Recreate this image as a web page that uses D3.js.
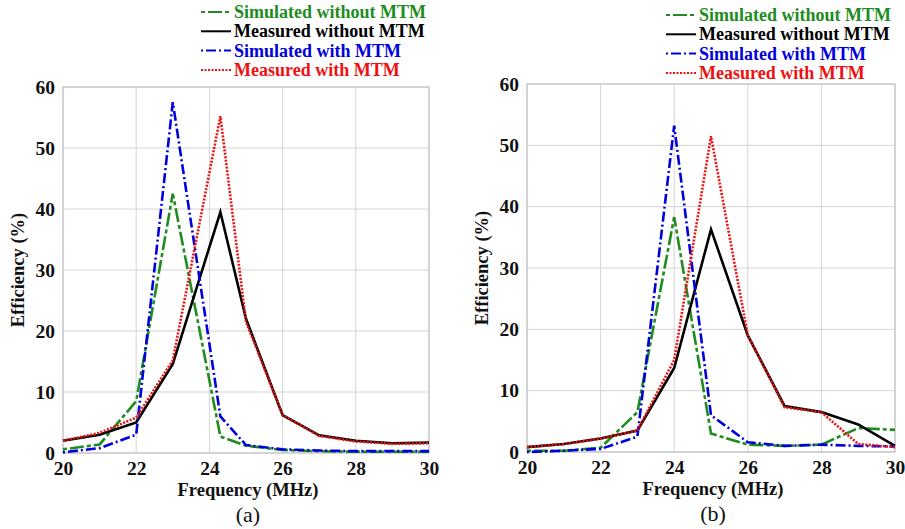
<!DOCTYPE html>
<html>
<head>
<meta charset="utf-8">
<script src="https://cdn.jsdelivr.net/npm/d3@7"></script>
<style>
  body { margin: 0; background: #fff; }
</style>
</head>
<body>
<script>
// Data
const seriesNames = ['Simulated without MTM', 'Measured without MTM', 'Simulated with MTM', 'Measured with MTM'];
const yTicks = [0, 10, 20, 30, 40, 50, 60];
const xTicks = [20, 22, 24, 26, 28, 30];

// panel (a)
const freqA = [20, 21, 22, 23, 24.3, 25, 26, 27, 28, 29, 30];
const simNoA = [0.6, 1.4, 8.5, 42.5, 2.7, 1.2, 0.5, 0.3, 0.2, 0.2, 0.2];
const measNoA = [2, 3, 5, 14.6, 39.5, 22, 6.2, 2.9, 2, 1.6, 1.7];
const simWithA = [0.1, 0.8, 3, 57.5, 6, 1.3, 0.6, 0.4, 0.3, 0.3, 0.3];
const measWithA = [2, 3.3, 5.8, 15.2, 55.2, 21.5, 6.2, 2.8, 1.9, 1.5, 1.6];

// panel (b)
const freqB = [20, 21, 22, 23, 24, 25, 26, 27, 28, 29, 30];
const simNoB = [0.2, 0.2, 0.7, 6.5, 38.3, 3, 1.2, 1, 1.2, 3.9, 3.6];
const measNoB = [0.8, 1.3, 2.2, 3.5, 13.7, 36.3, 19, 7.5, 6.5, 4.5, 1];
const simWithB = [0, 0.2, 0.5, 2.5, 53.2, 6, 1.6, 1, 1.2, 1, 0.9];
const measWithB = [0.8, 1.3, 2.2, 3.5, 15, 51.5, 19, 7.3, 6.5, 1.3, 0.8];

const colors = ['#1e8c1e', '#000000', '#0000dd', '#ee1111'];
const dashes = ['4,3,14,3', null, '2,3,10,3', '2,1.5'];
const serif = '"Liberation Serif"';

const svg = d3.select('body').append('svg')
  .attr('width', 905)
  .attr('height', 529);

function drawPanel(opt) {
  const { left, top, w, h, freq, values, label, legendX, legendY } = opt;
  const g = svg.append('g').attr('transform', `translate(${left}, ${top})`);

  const x = d3.scaleLinear().domain([20, 30]).range([0, w]);
  const y = d3.scaleLinear().domain([0, 60]).range([h, 0]);

  // grid
  g.selectAll('.gx').data(xTicks).enter().append('line')
    .attr('x1', d => x(d)).attr('x2', d => x(d))
    .attr('y1', 0).attr('y2', h)
    .attr('stroke', '#d4d4d4').attr('stroke-width', 1);
  g.selectAll('.gy').data(yTicks).enter().append('line')
    .attr('x1', 0).attr('x2', w)
    .attr('y1', d => y(d)).attr('y2', d => y(d))
    .attr('stroke', '#d4d4d4').attr('stroke-width', 1);
  g.append('rect')
    .attr('width', w).attr('height', h)
    .attr('fill', 'none').attr('stroke', '#bdbdbd');

  // axes (labels only)
  const xAxis = g.append('g')
    .attr('transform', `translate(0, ${h})`)
    .call(d3.axisBottom(x).tickValues(xTicks).tickSize(0).tickPadding(8));
  const yAxis = g.append('g')
    .call(d3.axisLeft(y).tickValues(yTicks).tickSize(0).tickPadding(8));
  [xAxis, yAxis].forEach(a => {
    a.select('.domain').remove();
    a.selectAll('text')
      .style('font-family', serif)
      .style('font-size', '19.5px')
      .style('font-weight', 'bold')
      .attr('fill', '#111');
  });

  // lines
  const line = d3.line().x((d, i) => x(freq[i])).y(d => y(d));
  values.forEach((vals, k) => {
    g.append('path')
      .datum(vals)
      .attr('d', line)
      .attr('fill', 'none')
      .attr('stroke', colors[k])
      .attr('stroke-width', 2.6)
      .attr('stroke-linejoin', 'miter')
      .attr('stroke-dasharray', dashes[k]);
  });

  // titles
  g.append('text')
    .attr('transform', `translate(-39, ${h / 2}) rotate(-90)`)
    .attr('text-anchor', 'middle')
    .style('font-family', serif).style('font-size', '18.5px').style('font-weight', 'bold')
    .attr('fill', '#111')
    .text('Efficiency (%)');
  g.append('text')
    .attr('x', w / 2 + 2).attr('y', h + 43)
    .attr('text-anchor', 'middle')
    .style('font-family', serif).style('font-size', '18.5px').style('font-weight', 'bold')
    .attr('fill', '#111')
    .text('Frequency (MHz)');
  g.append('text')
    .attr('x', w / 2 + 2).attr('y', h + 69)
    .attr('text-anchor', 'middle')
    .style('font-family', serif).style('font-size', '22px')
    .attr('fill', '#111')
    .text(label);

  // legend
  const leg = svg.append('g').attr('transform', `translate(${legendX}, ${legendY})`);
  seriesNames.forEach((name, k) => {
    const row = leg.append('g').attr('transform', `translate(0, ${k * 19.3})`);
    row.append('line')
      .attr('x1', 0).attr('x2', 30).attr('y1', 0).attr('y2', 0)
      .attr('stroke', colors[k]).attr('stroke-width', 2)
      .attr('stroke-dasharray', dashes[k]);
    row.append('text')
      .attr('x', 33).attr('y', 6)
      .style('font-family', serif).style('font-size', '18px').style('font-weight', 'bold')
      .attr('fill', colors[k])
      .text(name);
  });
}

drawPanel({
  left: 63, top: 87, w: 366, h: 366,
  freq: freqA, values: [simNoA, measNoA, simWithA, measWithA],
  label: '(a)', legendX: 201, legendY: 12
});

drawPanel({
  left: 527, top: 84, w: 368, h: 368,
  freq: freqB, values: [simNoB, measNoB, simWithB, measWithB],
  label: '(b)', legendX: 666, legendY: 15
});
</script>
</body>
</html>
